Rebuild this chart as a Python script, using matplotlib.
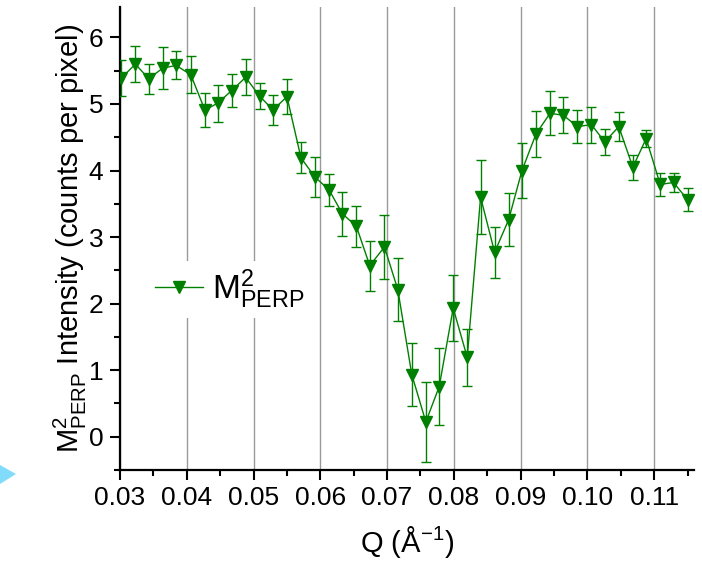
import matplotlib
matplotlib.use('Agg')
import matplotlib.pyplot as plt
from matplotlib.ticker import MultipleLocator, FormatStrFormatter
from matplotlib.patches import Polygon

plt.rcParams['font.family'] = ['Liberation Sans', 'DejaVu Sans']
plt.rcParams['mathtext.fontset'] = 'custom'
plt.rcParams['mathtext.rm'] = 'Liberation Sans'
plt.rcParams['mathtext.it'] = 'Liberation Sans'
plt.rcParams['mathtext.bf'] = 'Liberation Sans:bold'

# Q values (1/Angstrom), perpendicular magnetic intensity and its error
Q = [0.0302, 0.0323, 0.0343, 0.0364, 0.0384, 0.0406, 0.0427, 0.0446, 0.0467, 0.0488,
     0.0509, 0.0529, 0.0550, 0.0571, 0.0592, 0.0613, 0.0633, 0.0654, 0.0674, 0.0696,
     0.0716, 0.0737, 0.0758, 0.0778, 0.0799, 0.0820, 0.0840, 0.0861, 0.0882, 0.0902,
     0.0923, 0.0944, 0.0964, 0.0985, 0.1006, 0.1026, 0.1047, 0.1068, 0.1088, 0.1109,
     0.1129, 0.1150]
I_perp = [5.39, 5.60, 5.38, 5.54, 5.58, 5.44, 4.91, 5.01, 5.20, 5.40,
          5.12, 4.91, 5.11, 4.19, 3.90, 3.71, 3.35, 3.16, 2.57, 2.85,
          2.21, 0.93, 0.22, 0.75, 1.93, 1.19, 3.60, 2.77, 3.26, 4.00,
          4.55, 4.86, 4.83, 4.66, 4.69, 4.43, 4.66, 4.05, 4.48, 3.79,
          3.82, 3.56]
I_err = [0.275, 0.27, 0.225, 0.31, 0.21, 0.275, 0.25, 0.28, 0.25, 0.27,
         0.20, 0.23, 0.265, 0.235, 0.305, 0.24, 0.33, 0.31, 0.375, 0.48,
         0.47, 0.47, 0.60, 0.58, 0.50, 0.43, 0.56, 0.38, 0.395, 0.42,
         0.345, 0.33, 0.27, 0.25, 0.27, 0.20, 0.22, 0.19, 0.13, 0.175,
         0.14, 0.17]

green = '#008000'

fig = plt.figure(figsize=(7.02, 5.75), dpi=100)
ax = fig.add_axes([0.171, 0.183, 0.817, 0.805])

ax.errorbar(Q, I_perp, yerr=I_err, fmt='none', ecolor=green, elinewidth=1.0,
            capsize=3.5, capthick=1.0, zorder=3)
ax.plot(Q, I_perp, color=green, lw=1.0, marker='v', markersize=9,
        markerfacecolor=green, markeredgecolor=green,
        label=r'$\mathrm{M}^{2}_{\mathrm{PERP}}$', zorder=4)

ax.set_xlim(0.03, 0.1159)
ax.set_ylim(-0.5, 6.46)

ax.xaxis.set_major_locator(MultipleLocator(0.01))
ax.xaxis.set_minor_locator(MultipleLocator(0.005))
ax.xaxis.set_major_formatter(FormatStrFormatter('%.2f'))
ax.yaxis.set_major_locator(MultipleLocator(1))
ax.yaxis.set_minor_locator(MultipleLocator(0.5))

ax.grid(axis='x', which='major', color='#9a9a9a', lw=1.0)
ax.set_axisbelow(True)

for s in ['top', 'right']:
    ax.spines[s].set_visible(False)
for s in ['left', 'bottom']:
    ax.spines[s].set_linewidth(1.6)

ax.tick_params(which='major', direction='out', length=7, width=1.5,
               labelsize=19, pad=5)
ax.tick_params(which='minor', direction='out', length=4, width=1.5)

ax.set_xlabel(r'Q (Å$^{-1}$)', fontsize=21, labelpad=10)
ax.set_ylabel(r'$\mathrm{M}^{2}_{\mathrm{PERP}}$ Intensity (counts per pixel)',
              fontsize=21, labelpad=0)

leg = ax.legend(loc='center left', bbox_to_anchor=(0.02, 0.39), fontsize=24,
                frameon=True, framealpha=1.0, fancybox=False, handlelength=1.45,
                borderpad=0.2, handletextpad=0.25)
leg.get_frame().set_edgecolor('none')
leg.get_frame().set_facecolor('white')

# small cyan pointer at the lower left corner of the canvas
fig.patches.append(Polygon([[0.0, 1 - 465 / 575], [16 / 702, 1 - 474 / 575],
                            [0.0, 1 - 484 / 575]], closed=True,
                           transform=fig.transFigure, facecolor='#80dcfa',
                           edgecolor='none'))

fig.savefig('out.png', dpi=100)
